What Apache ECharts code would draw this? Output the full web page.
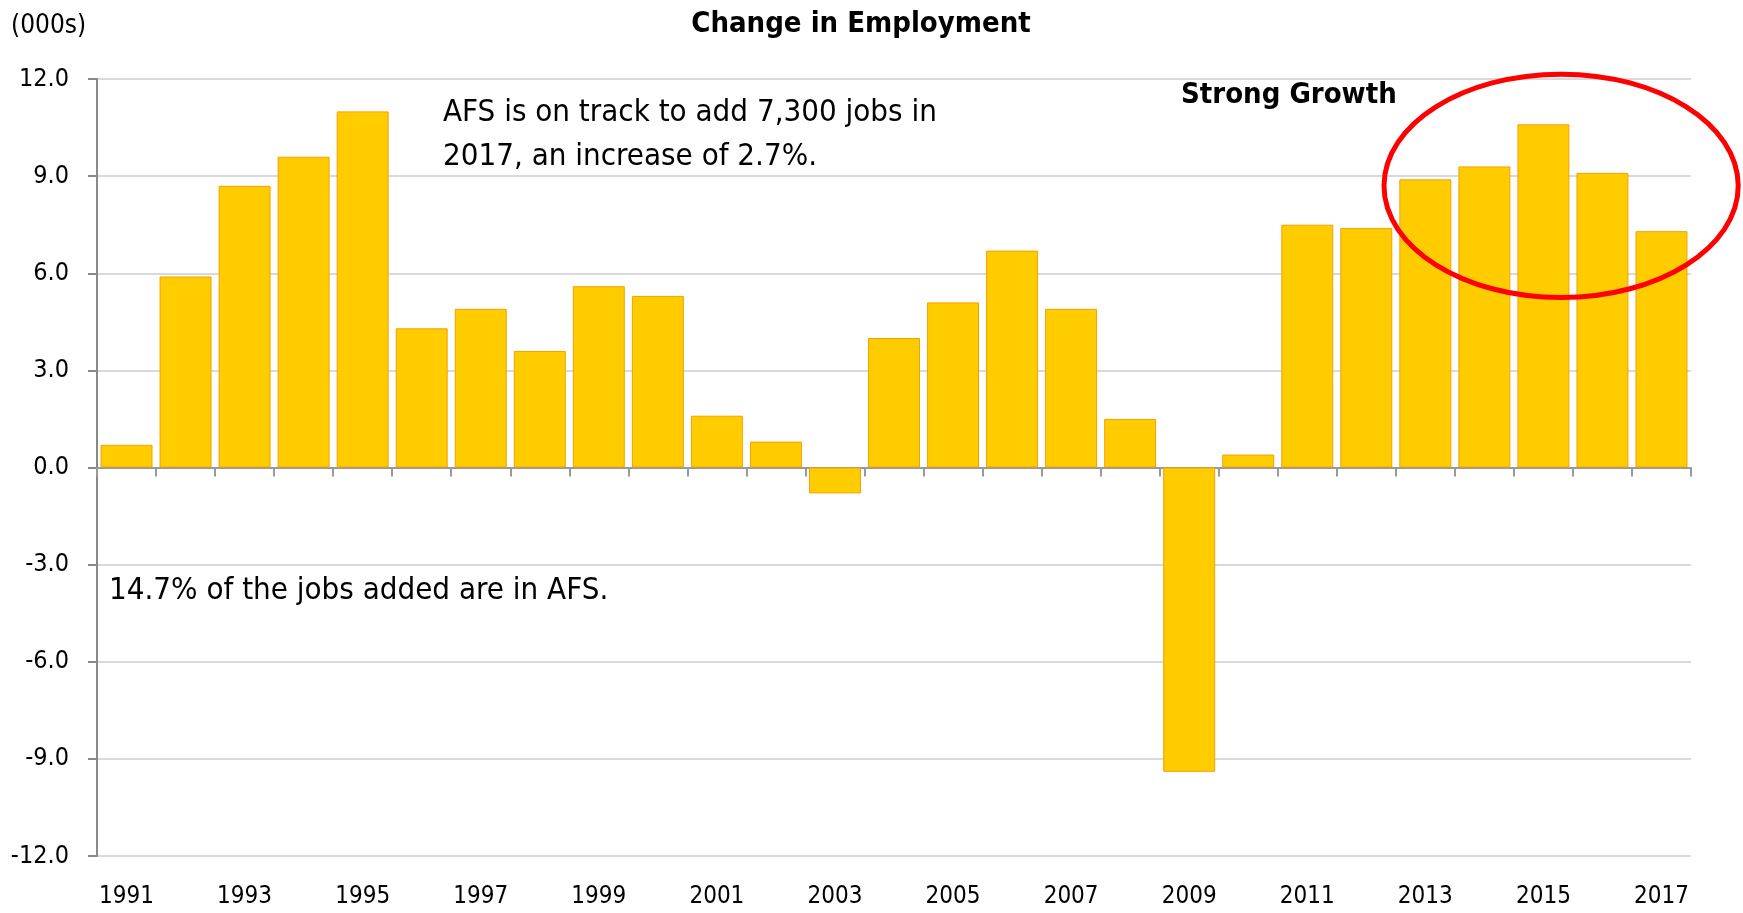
<!DOCTYPE html>
<html>
<head>
<meta charset="utf-8">
<script src="https://cdn.jsdelivr.net/npm/echarts@6/dist/echarts.min.js"></script>
<style>
  html, body { margin: 0; padding: 0; background: #fff; }
  #chart { width: 1743px; height: 913px; }
</style>
</head>
<body>
<div id="chart"></div>
<script>
// data
const years = ['1991', '1992', '1993', '1994', '1995', '1996', '1997', '1998', '1999',
  '2000', '2001', '2002', '2003', '2004', '2005', '2006', '2007', '2008', '2009',
  '2010', '2011', '2012', '2013', '2014', '2015', '2016', '2017'];
const employmentChange = [0.7, 5.9, 8.7, 9.6, 11.0, 4.3, 4.9, 3.6, 5.6,
  5.3, 1.6, 0.8, -0.8, 4.0, 5.1, 6.7, 4.9, 1.5, -9.4,
  0.4, 7.5, 7.4, 8.9, 9.3, 10.6, 9.1, 7.3];
const yMin = -12;
const yMax = 12;
const yStep = 3;

const FONT = "'Liberation Sans Narrow', 'DejaVu Sans Condensed', 'Liberation Sans', sans-serif";

const chart = echarts.init(document.getElementById('chart'));

const option = {
  animation: false,
  backgroundColor: '#fff',
  textStyle: { fontFamily: FONT },
  title: {
    text: 'Change in Employment',
    left: 856,
    textAlign: 'center',
    top: 5,
    textStyle: { fontFamily: FONT, fontSize: 29, fontWeight: 'bold', color: '#000' }
  },
  grid: { left: 97, right: 52, top: 79, bottom: 57 },
  xAxis: [
    {
      // axis line + ticks sitting on zero
      type: 'category',
      data: years,
      axisLine: { onZero: true, lineStyle: { color: '#999', width: 2 } },
      axisTick: { show: true, interval: 0, length: 9, lineStyle: { color: '#999', width: 2 } },
      axisLabel: { show: false },
      splitLine: { show: false }
    },
    {
      // labels along the bottom
      type: 'category',
      data: years,
      position: 'bottom',
      axisLine: { show: false, onZero: false },
      axisTick: { show: false },
      axisLabel: {
        interval: 1,
        margin: 29,
        color: '#000',
        fontFamily: FONT,
        fontSize: 24
      },
      splitLine: { show: false }
    }
  ],
  yAxis: {
    type: 'value',
    min: yMin,
    max: yMax,
    interval: yStep,
    axisLine: { show: true, lineStyle: { color: '#888', width: 2 } },
    axisTick: { show: true, length: 9, lineStyle: { color: '#888', width: 2 } },
    axisLabel: {
      color: '#000',
      fontFamily: FONT,
      fontSize: 25,
      margin: 28,
      formatter: v => v.toFixed(1)
    },
    splitLine: { lineStyle: { color: '#d9d9d9', width: 2 } }
  },
  series: [
    {
      type: 'bar',
      xAxisIndex: 0,
      data: employmentChange,
      barCategoryGap: '12%',
      itemStyle: { color: '#ffcc00', borderColor: '#f5a000', borderWidth: 1 }
    }
  ],
  graphic: [
    {
      id: 'unit',
      type: 'text',
      left: 11,
      top: 13,
      style: { text: '(000s)', fontFamily: FONT, fontSize: 26, fill: '#000' }
    },
    {
      id: 'note1',
      type: 'text',
      left: 443,
      top: 91,
      style: {
        text: 'AFS is on track to add 7,300 jobs in\n2017, an increase of 2.7%.',
        fontFamily: FONT, fontSize: 31, lineHeight: 44, fill: '#000'
      }
    },
    {
      id: 'note2',
      type: 'text',
      left: 109,
      top: 575,
      style: { text: '14.7% of the jobs added are in AFS.', fontFamily: FONT, fontSize: 31, fill: '#000' }
    },
    {
      id: 'strong',
      type: 'text',
      left: 1181,
      top: 81,
      style: { text: 'Strong Growth', fontFamily: FONT, fontSize: 29, fontWeight: 'bold', fill: '#000' }
    }
  ]
};

chart.setOption(option);

// red ring around the 2013-2017 bars, placed from the axes
const p2015 = chart.convertToPixel({ xAxisIndex: 0, yAxisIndex: 0 }, ['2015', 8.7]);
const band = chart.convertToPixel({ xAxisIndex: 0 }, '2016') - chart.convertToPixel({ xAxisIndex: 0 }, '2015');
const unit = chart.convertToPixel({ yAxisIndex: 0 }, 0) - chart.convertToPixel({ yAxisIndex: 0 }, 1);
chart.setOption({
  graphic: [
    {
      id: 'ring',
      type: 'ellipse',
      z: 100,
      shape: { cx: p2015[0] + band * 0.3, cy: p2015[1], rx: band * 3.0, ry: unit * 3.45 },
      style: { fill: 'none', stroke: '#ff0000', lineWidth: 5 }
    }
  ]
});
</script>
</body>
</html>
